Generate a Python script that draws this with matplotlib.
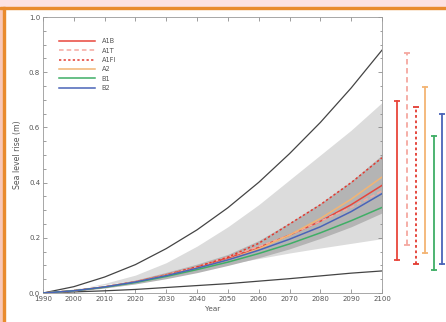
import numpy as np
import matplotlib
matplotlib.use("Agg")
import matplotlib.pyplot as plt
from matplotlib.patches import Rectangle

years = [1990, 2000, 2010, 2020, 2030, 2040, 2050, 2060, 2070, 2080, 2090, 2100]

# envelopes
upper_black = [0, 0.023, 0.058, 0.103, 0.161, 0.229, 0.309, 0.401, 0.505, 0.618, 0.743, 0.88]
lower_black = [0, 0.004, 0.008, 0.013, 0.02, 0.027, 0.034, 0.043, 0.052, 0.062, 0.072, 0.08]
light_hi = [0, 0.012, 0.035, 0.065, 0.11, 0.17, 0.24, 0.32, 0.41, 0.50, 0.59, 0.69]
light_lo = [0, 0.015, 0.03, 0.045, 0.065, 0.085, 0.105, 0.125, 0.145, 0.163, 0.18, 0.197]
dark_hi = [0, 0.01, 0.026, 0.047, 0.075, 0.105, 0.14, 0.19, 0.255, 0.325, 0.405, 0.50]
dark_lo = [0, 0.006, 0.018, 0.033, 0.052, 0.074, 0.10, 0.128, 0.16, 0.198, 0.24, 0.29]

# scenarios
scenarios = ['A1B', 'A1T', 'A1FI', 'A2', 'B1', 'B2']
a1b = [0, 0.008, 0.022, 0.041, 0.066, 0.094, 0.127, 0.165, 0.21, 0.26, 0.32, 0.39]
a1t = [0, 0.008, 0.022, 0.041, 0.066, 0.095, 0.13, 0.168, 0.21, 0.26, 0.31, 0.37]
a1fi = [0, 0.008, 0.022, 0.04, 0.066, 0.095, 0.13, 0.18, 0.25, 0.32, 0.40, 0.49]
a2 = [0, 0.008, 0.022, 0.04, 0.064, 0.09, 0.12, 0.16, 0.21, 0.27, 0.34, 0.42]
b1 = [0, 0.008, 0.021, 0.038, 0.06, 0.085, 0.112, 0.143, 0.178, 0.218, 0.262, 0.31]
b2 = [0, 0.008, 0.022, 0.04, 0.063, 0.09, 0.12, 0.155, 0.195, 0.24, 0.295, 0.36]

# 2100 ranges shown as bars on the right
range_lo = [0.12, 0.175, 0.106, 0.146, 0.084, 0.106]
range_hi = [0.697, 0.869, 0.675, 0.748, 0.569, 0.65]

colors = ['#e8463c', '#f5a8a0', '#e33a30', '#f3b473', '#3fae66', '#4a64b8']
styles = ['-', (0, (3, 2)), (0, (1.5, 1.5)), '-', '-', '-']
series = [a1b, a1t, a1fi, a2, b1, b2]

fig = plt.figure(figsize=(4.46, 3.22), dpi=100)

# screenshot frame
fig.patches.append(Rectangle((0, 0.978), 1, 0.022, transform=fig.transFigure,
                             color='#fde1e1', zorder=0))
fig.patches.append(Rectangle((0, 0.972), 1, 0.007, transform=fig.transFigure,
                             color='#e98b2e', zorder=1))
fig.patches.append(Rectangle((0, 0), 0.007, 0.978, transform=fig.transFigure,
                             color='#f9c8b8', zorder=0))
fig.patches.append(Rectangle((0.007, 0), 0.004, 0.978, transform=fig.transFigure,
                             color='#e98b2e', zorder=1))

ax = fig.add_axes([0.0964, 0.090, 0.760, 0.857])

ax.fill_between(years, light_lo, light_hi, color='#dcdcdc', lw=0, zorder=1)
ax.fill_between(years, dark_lo, dark_hi, color='#b4b4b4', lw=0, zorder=2)
ax.plot(years, upper_black, color='#444444', lw=0.9, zorder=3)
ax.plot(years, lower_black, color='#444444', lw=0.9, zorder=3)

for name, vals, c, ls in zip(scenarios, series, colors, styles):
    ax.plot(years, vals, color=c, ls=ls, lw=1.1, label=name, zorder=4)

ax.set_xlim(1990, 2100)
ax.set_ylim(0, 1.0)
ax.set_xticks(years)
ax.set_yticks([0, 0.2, 0.4, 0.6, 0.8, 1.0])
ax.set_yticks(np.arange(0, 1.0001, 0.05), minor=True)
ax.yaxis.set_major_formatter(matplotlib.ticker.FormatStrFormatter('%.1f'))
ax.tick_params(which='both', direction='in', top=True, right=True,
               labelsize=5.0, colors='#777777', labelcolor='#555555', pad=2)
ax.tick_params(which='major', length=3, width=0.5)
ax.tick_params(which='minor', length=1.8, width=0.5)
for s in ax.spines.values():
    s.set_color('#999999')
    s.set_linewidth(0.6)

ax.set_xlabel('Year', fontsize=5.2, color='#555555', labelpad=3)
ax.set_ylabel('Sea level rise (m)', fontsize=5.6, color='#555555', labelpad=5)

leg = ax.legend(loc='upper left', bbox_to_anchor=(0.03, 0.945), frameon=False,
                fontsize=4.8, handlelength=5.4, labelspacing=0.5, handletextpad=1.0)
for t in leg.get_texts():
    t.set_color('#555555')

# range bars
bx = fig.add_axes([0.865, 0.090, 0.135, 0.857])
bx.set_xlim(0, 1)
bx.set_ylim(0, 1.0)
bx.axis('off')
bar_x = [0.183, 0.35, 0.5, 0.65, 0.8, 0.933]
for x, lo, hi, c, ls in zip(bar_x, range_lo, range_hi, colors, styles):
    bx.plot([x, x], [lo, hi], color=c, ls=ls, lw=1.3)
    bx.plot([x, x], [lo, hi], color=c, ls='none', marker='_', ms=5, mew=1.3)

fig.savefig('out.png', dpi=100)
